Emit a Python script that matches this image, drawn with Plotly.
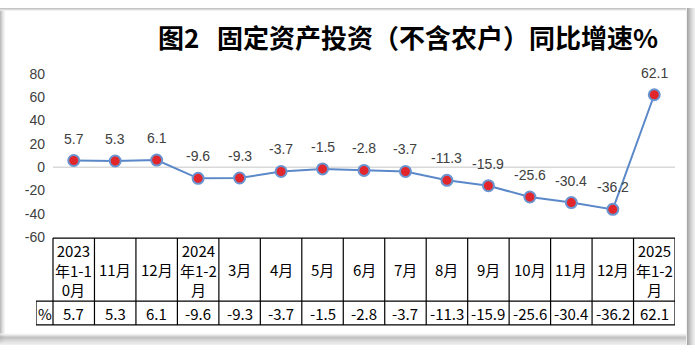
import plotly.graph_objects as go

categories = ["2023<br>年1-1<br>0月", "11月", "12月", "2024<br>年1-2<br>月", "3月", "4月", "5月",
              "6月", "7月", "8月", "9月", "10月", "11月", "12月", "2025<br>年1-2<br>月"]
values = [5.7, 5.3, 6.1, -9.6, -9.3, -3.7, -1.5, -2.8, -3.7, -11.3, -15.9, -25.6, -30.4, -36.2, 62.1]
value_labels = ["5.7", "5.3", "6.1", "-9.6", "-9.3", "-3.7", "-1.5", "-2.8", "-3.7", "-11.3", "-15.9",
                "-25.6", "-30.4", "-36.2", "62.1"]
row_label = "%"
title_text = "图2&nbsp;&nbsp;&nbsp;固定资产投资（不含农户）同比增速%"
y_ticks = [80, 60, 40, 20, 0, -20, -40, -60]

W, H = 695, 353
n = len(values)
idx = list(range(n))

# layout geometry (pixels)
col_w = (675 - 53) / n
pct_w = 53 - 36
x_left = -0.5 - pct_w / col_w
plot_top, plot_bot = 69, 240
tab_top, tab_mid, tab_bot = 241, 307, 332

def py(p):
    return 1 - p / H

fig = go.Figure()
fig.add_trace(go.Scatter(
    x=idx, y=values, mode="lines+markers",
    line=dict(color="#5B88C8", width=2),
    marker=dict(size=11, color="#E1262C", line=dict(color="#6A95D0", width=2)),
    hoverinfo="skip", showlegend=False,
))

shapes = []
# zero line
shapes.append(dict(type="line", xref="x", yref="y", x0=-0.5, x1=n - 0.5, y0=0, y1=0,
                   line=dict(color="#D9D9D9", width=1.5), layer="below"))
# table lines
lc = dict(color="#000000", width=1.2)
shapes.append(dict(type="line", xref="x", yref="paper", x0=-0.5, x1=n - 0.5, y0=py(tab_top), y1=py(tab_top), line=lc))
shapes.append(dict(type="line", xref="x", yref="paper", x0=x_left, x1=n - 0.5, y0=py(tab_mid), y1=py(tab_mid), line=lc))
shapes.append(dict(type="line", xref="x", yref="paper", x0=x_left, x1=n - 0.5, y0=py(tab_bot), y1=py(tab_bot), line=lc))
for i in range(n + 1):
    shapes.append(dict(type="line", xref="x", yref="paper", x0=i - 0.5, x1=i - 0.5,
                       y0=py(tab_top), y1=py(tab_bot), line=lc))
shapes.append(dict(type="line", xref="x", yref="paper", x0=x_left, x1=x_left,
                   y0=py(tab_mid), y1=py(tab_bot), line=lc))

# frame shadow
def rect(x0, y0, x1, y1, c):
    shapes.append(dict(type="rect", xref="paper", yref="paper", x0=x0 / W, x1=x1 / W,
                       y0=py(y1), y1=py(y0), line=dict(width=0), fillcolor=c, layer="above"))
greys_l = ["#BDBDBD", "#CFCFCF", "#DEDEDE", "#EAEAEA", "#F3F3F3"]
for k, c in enumerate(greys_l):
    rect(k, 0, k + 1, H, c)
for k, c in enumerate(["#C4C4C4", "#DADADA", "#ECECEC"]):
    rect(0, k, W, k + 1, c)
greys_r = ["#F2F2F2", "#A8A8A8", "#B4B4B4", "#C0C0C0", "#CBCBCB", "#D5D5D5", "#DEDEDE", "#E6E6E6", "#EDEDED"]
for k, c in enumerate(greys_r):
    rect(686 + k, 0, 687 + k, H, c)
greys_b = ["#F4F4F4", "#E8E8E8", "#D0D0D0", "#B8B8B8", "#B5B5B5", "#BDBDBD", "#C6C6C6",
           "#CFCFCF", "#D8D8D8", "#E0E0E0", "#E8E8E8", "#EFEFEF"]
for k, c in enumerate(greys_b):
    rect(0, 341 + k, 686, 342 + k, c)

annotations = []
annotations.append(dict(text="<b>" + title_text + "</b>", xref="paper", yref="paper",
                        x=408 / W, y=py(30), showarrow=False,
                        font=dict(family="Noto Sans CJK SC", size=26, color="#000000"),
                        xanchor="center", yanchor="middle"))
for i, (v, lab) in enumerate(zip(values, value_labels)):
    annotations.append(dict(text=lab, x=i, y=v, xref="x", yref="y", showarrow=False, yshift=22,
                            font=dict(family="Liberation Sans", size=14, color="#404040")))
tfont = dict(family="Noto Sans CJK SC", size=15, color="#000000")
for i, c in enumerate(categories):
    annotations.append(dict(text=c, x=i, xref="x", yref="paper", y=py((tab_top + tab_mid) / 2),
                            showarrow=False, yanchor="middle", font=tfont))
    annotations.append(dict(text=value_labels[i], x=i, xref="x", yref="paper",
                            y=py((tab_mid + tab_bot) / 2), showarrow=False, yanchor="middle",
                            font=tfont))
annotations.append(dict(text=row_label, x=(x_left - 0.5) / 2, xref="x", yref="paper",
                        y=py((tab_mid + tab_bot) / 2), showarrow=False, yanchor="middle",
                        font=tfont))

fig.update_layout(
    width=W, height=H, margin=dict(l=0, r=0, t=0, b=0),
    paper_bgcolor="#FFFFFF", plot_bgcolor="rgba(0,0,0,0)",
    xaxis=dict(domain=[36 / W, 675 / W], range=[x_left, n - 0.5], visible=False, fixedrange=True),
    yaxis=dict(domain=[py(plot_bot), py(plot_top)], range=[-60, 80], anchor="free", position=45 / W,
               tickvals=y_ticks, ticktext=[str(t) for t in y_ticks], showgrid=False, zeroline=False,
               showline=False, ticks="", tickfont=dict(family="Liberation Sans", size=14, color="#404040"),
               fixedrange=True),
    shapes=shapes, annotations=annotations,
)
fig.write_html("out.html")
